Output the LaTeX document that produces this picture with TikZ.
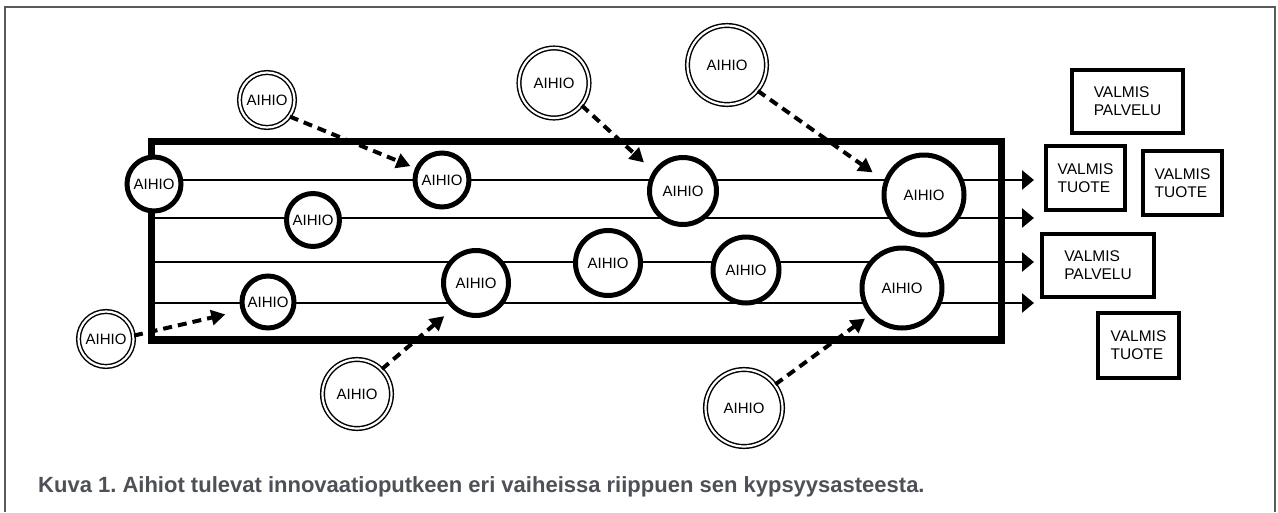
\documentclass[tikz,border=0pt]{standalone}
\usepackage{fontspec}
\setmainfont{Liberation Sans}
\usetikzlibrary{arrows.meta,backgrounds}
\definecolor{framegray}{HTML}{5A5A5A}
\definecolor{captiongray}{HTML}{4D5056}
\frenchspacing

\begin{document}
\begin{tikzpicture}[x=1pt,y=-1pt,
  stage/.style={circle,draw=black,fill=white,line width=5pt,inner sep=0pt,
    font=\fontsize{15}{18}\selectfont},
  idea/.style={circle,draw=black,double=white,double distance=2.2pt,line width=1.45pt,
    fill=white,inner sep=0pt,font=\fontsize{15}{18}\selectfont},
  product/.style={rectangle,draw=black,line width=4pt,fill=white,inner sep=0pt,
    align=left,font=\fontsize{15.5}{18}\selectfont},
  flow/.style={line width=2.8pt,-{Triangle[length=12pt,width=19pt]}},
  feed/.style={line width=4pt,dash pattern=on 9pt off 6pt,
    -{Triangle[length=14pt,width=15pt]}},
  pipe/.style={line width=7.5pt},
  frameline/.style={draw=framegray,line width=2pt},
]
\useasboundingbox (0,0) rectangle (1278,512);

% outer frame (open at the bottom)
\draw[frameline] (5,512) -- (5,7) -- (1275,7) -- (1275,512);

% stages inside the pipe
\node[stage,minimum size=54pt] (c1)  at (154,184) {AIHIO};
\node[stage,minimum size=53pt] (c2)  at (313,220) {AIHIO};
\node[stage,minimum size=54pt] (c3)  at (442,180) {AIHIO};
\node[stage,minimum size=67pt] (c4)  at (683,191) {AIHIO};
\node[stage,minimum size=80pt] (c5)  at (924,195) {AIHIO};
\node[stage,minimum size=65pt] (c6)  at (608,263) {AIHIO};
\node[stage,minimum size=66pt] (c7)  at (746,270) {AIHIO};
\node[stage,minimum size=65pt] (c8)  at (476,283) {AIHIO};
\node[stage,minimum size=52pt] (c9)  at (268,302) {AIHIO};
\node[stage,minimum size=80pt] (c10) at (902,288) {AIHIO};

% ideas entering from outside
\node[idea,minimum size=55pt] (iA) at (267,100) {AIHIO};
\node[idea,minimum size=70pt] (iB) at (554,83)  {AIHIO};
\node[idea,minimum size=79pt] (iC) at (727,65)  {AIHIO};
\node[idea,minimum size=55pt] (iD) at (106,339) {AIHIO};
\node[idea,minimum size=69pt] (iE) at (357,394) {AIHIO};
\node[idea,minimum size=77pt] (iF) at (744,408) {AIHIO};

% finished outputs
\node[product,minimum width=111pt,minimum height=63pt] (p1) at (1127.5,101.5) {VALMIS\\PALVELU};
\node[product,minimum width=79pt,minimum height=64pt]  (p2) at (1085.5,178)   {VALMIS\\TUOTE};
\node[product,minimum width=79pt,minimum height=64pt]  (p3) at (1182.5,183)   {VALMIS\\TUOTE};
\node[product,minimum width=112pt,minimum height=63pt] (p4) at (1098,265.5)   {VALMIS\\PALVELU};
\node[product,minimum width=81pt,minimum height=65pt]  (p5) at (1138.5,345.5) {VALMIS\\TUOTE};

% flow lines start and end
\coordinate (s1) at (151.5,180);   \coordinate (e1) at (1034,180);
\coordinate (s2) at (151.5,218);   \coordinate (e2) at (1034,218);
\coordinate (s3) at (151.5,262);   \coordinate (e3) at (1034,262);
\coordinate (s4) at (151.5,303);   \coordinate (e4) at (1034,303);

\begin{scope}[on background layer]
  \draw[pipe] (151.5,141.5) rectangle (1001.5,340);
  \draw[flow] (s1) -- (e1);
  \draw[flow] (s2) -- (e2);
  \draw[flow] (s3) -- (e3);
  \draw[flow] (s4) -- (e4);
\end{scope}

% ideas joining the pipe
\draw[feed,shorten >=5pt]    (iA.-36) -- (c3.156);
\draw[feed,shorten >=12.5pt] (iB.-39) -- (c4.146);
\draw[feed,shorten >=14pt]   (iC.-40) -- (c5.160);
\draw[feed,shorten >=16pt]   (iD.7)   -- (c9.198);
\draw[feed,shorten >=11pt]   (iE.45)  -- (c8.228);
\draw[feed,shorten >=5.5pt]  (iF.37)  -- (c10.220);

% caption
\node[anchor=base west,inner sep=0pt,text=captiongray,
  font=\fontsize{22}{26}\selectfont\bfseries] (caption) at (38,492)
  {Kuva 1. Aihiot tulevat innovaatioputkeen eri vaiheissa riippuen sen kypsyysasteesta.};
\end{tikzpicture}
\end{document}
